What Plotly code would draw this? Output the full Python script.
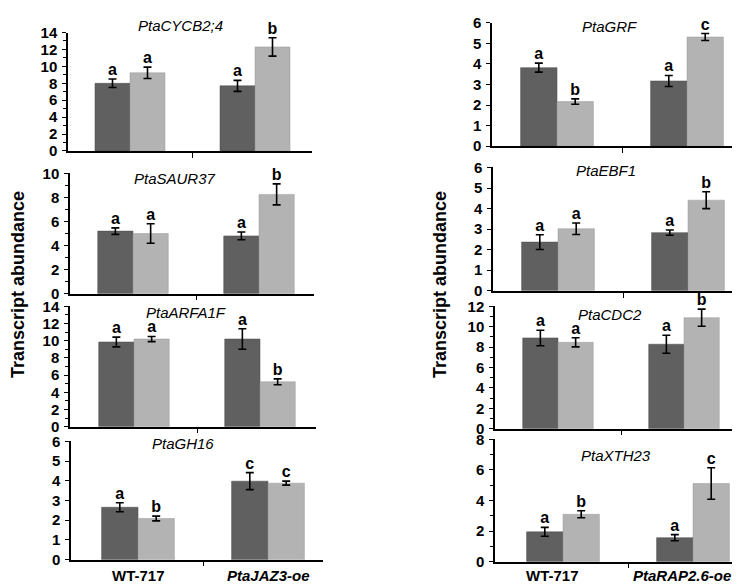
import plotly.graph_objects as go

W, H = 740, 584

genes = ["PtaCYCB2;4", "PtaSAUR37", "PtaARFA1F", "PtaGH16",
         "PtaGRF", "PtaEBF1", "PtaCDC2", "PtaXTH23"]
groups_left = ["<b>WT-717</b>", "<b><i>PtaJAZ3-oe</i></b>"]
groups_right = ["<b>WT-717</b>", "<b><i>PtaRAP2.6-oe</i></b>"]

dark_vals = [[8.0, 7.7], [5.2, 4.8], [9.85, 10.2], [2.66, 3.98],
             [3.82, 3.17], [2.37, 2.83], [8.9, 8.28], [1.95, 1.57]]
dark_err = [[0.5, 0.65], [0.27, 0.32], [0.57, 1.19], [0.23, 0.43],
            [0.22, 0.27], [0.36, 0.13], [0.76, 0.88], [0.29, 0.2]]
light_vals = [[9.24, 12.3], [5.0, 8.25], [10.2, 5.22], [2.09, 3.88],
              [2.17, 5.31], [3.02, 4.41], [8.47, 10.89], [3.1, 5.11]]
light_err = [[0.67, 1.09], [0.81, 0.87], [0.3, 0.34], [0.12, 0.1],
             [0.13, 0.17], [0.28, 0.41], [0.45, 0.84], [0.23, 1.03]]
dark_letters = [["a", "a"], ["a", "a"], ["a", "a"], ["a", "c"],
                ["a", "a"], ["a", "a"], ["a", "a"], ["a", "a"]]
light_letters = [["a", "b"], ["a", "b"], ["a", "b"], ["b", "c"],
                 ["b", "c"], ["a", "b"], ["a", "b"], ["b", "c"]]
y_max = [14, 10, 14, 6, 6, 6, 12, 8]
y_step = [2, 2, 2, 1, 1, 1, 2, 2]

# panel boxes in pixels: axis left, axis right, centre grp0, centre grp1, top, bottom
boxes = [
    (60, 304, 122, 247, 16, 138),
    (62, 306, 125, 251, 161, 285),
    (62, 308, 126, 252, 298, 422),
    (63, 315, 130, 260, 437, 559),
    (484, 733, 549, 679, 6, 133),
    (485, 733, 550, 680, 155, 282),
    (487, 728, 550, 676, 298, 424),
    (487, 733, 555, 685, 435, 561),
]
title_pos = [(172, 9), (167, 166), (178, 304), (175, 439),
             (601, 10), (598, 158), (602, 306), (608, 452)]

DARK = "#606060"
LIGHT = "#b3b3b3"
BW = 0.28
FONT = "Liberation Sans, Arial, sans-serif"

fig = go.Figure()
layout = dict(
    width=W, height=H,
    margin=dict(l=0, r=0, t=0, b=0),
    paper_bgcolor="white", plot_bgcolor="white",
    showlegend=False,
    font=dict(family=FONT, color="black"),
)
annotations = []

for i in range(8):
    n = "" if i == 0 else str(i + 1)
    xa, ya = "x" + n, "y" + n
    x0, x1, c0, c1, top, bot = boxes[i]
    u = c1 - c0
    grp = [0, 1]
    xd = [g - BW / 2 for g in grp]
    xl = [g + BW / 2 for g in grp]

    fig.add_trace(go.Bar(
        x=xd, y=dark_vals[i], width=BW, xaxis=xa, yaxis=ya,
        marker=dict(color=DARK, line=dict(color="#4a4a4a", width=0.5)),
        error_y=dict(type="data", array=dark_err[i], color="black",
                     thickness=1.6, width=4),
    ))
    fig.add_trace(go.Bar(
        x=xl, y=light_vals[i], width=BW, xaxis=xa, yaxis=ya,
        marker=dict(color=LIGHT, line=dict(color="#9a9a9a", width=0.5)),
        error_y=dict(type="data", array=light_err[i], color="black",
                     thickness=1.6, width=4),
    ))
    fig.add_trace(go.Scatter(
        x=xd + xl,
        y=[v + e for v, e in zip(dark_vals[i], dark_err[i])]
          + [v + e for v, e in zip(light_vals[i], light_err[i])],
        text=["<b>%s</b>" % t for t in dark_letters[i] + light_letters[i]],
        mode="text", textposition="top center",
        textfont=dict(family=FONT, size=16, color="black"),
        cliponaxis=False, xaxis=xa, yaxis=ya, hoverinfo="skip",
    ))

    layout["xaxis" + n] = dict(
        domain=[x0 / W, x1 / W], anchor=ya,
        range=[(x0 - c0) / u, (x1 - c0) / u],
        tickvals=[0.5], ticktext=[""],
        ticks="outside", ticklen=5, tickwidth=1, tickcolor="black",
        showgrid=False, zeroline=False,
        showline=True, linecolor="black", linewidth=1.5,
        fixedrange=True,
    )
    yt = list(range(0, y_max[i] + 1, y_step[i]))
    ydict = dict(
        domain=[1 - bot / H, 1 - top / H], anchor=xa,
        range=[0, y_max[i]],
        tickvals=yt, ticktext=["<b>%d</b>" % v for v in yt],
        ticks="outside", ticklen=4, tickwidth=1, tickcolor="black",
        showgrid=False, zeroline=False,
        showline=True, linecolor="black", linewidth=1.5,
        tickfont=dict(family=FONT, size=15, color="black"),
        ticklabelstandoff=2,
        fixedrange=True,
    )
    if y_step[i] == 2:
        ydict["minor"] = dict(tickvals=list(range(1, y_max[i], 2)),
                              ticks="outside", ticklen=3,
                              tickwidth=1, tickcolor="black", showgrid=False)
    layout["yaxis" + n] = ydict

    tx, ty = title_pos[i]
    annotations.append(dict(
        x=tx / W, y=1 - ty / H, xref="paper", yref="paper",
        text="<i>%s</i>" % genes[i], showarrow=False,
        xanchor="center", yanchor="middle",
        font=dict(family=FONT, size=15, color="black"),
    ))

# group labels under the bottom panels
for ax, labels, shift in (("x4", groups_left, 0), ("x8", groups_right, -11)):
    for g, lab in enumerate(labels):
        annotations.append(dict(
            x=g, xref=ax, y=1 - 575 / H, yref="paper", xshift=shift,
            text=lab, showarrow=False, xanchor="center", yanchor="middle",
            font=dict(family=FONT, size=15, color="black"),
        ))

for ax in (10, 432):
    annotations.append(dict(
        x=ax / W, y=1 - 276 / H, xref="paper", yref="paper",
        text="<b>Transcript abundance</b>", textangle=-90, showarrow=False,
        xanchor="center", yanchor="middle",
        font=dict(family=FONT, size=18, color="black"),
    ))

layout["annotations"] = annotations
layout["barmode"] = "overlay"
fig.update_layout(**layout)

fig.write_html("out.html")
